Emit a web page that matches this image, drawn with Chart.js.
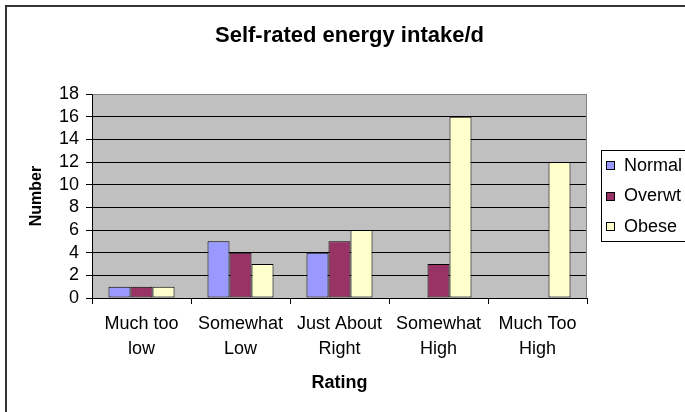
<!DOCTYPE html>
<html>
<head>
<meta charset="utf-8">
<script src="https://cdn.jsdelivr.net/npm/chart.js@4/dist/chart.umd.min.js"></script>
<style>
  html, body { margin: 0; padding: 0; background: #ffffff; }
  #wrap { width: 685px; height: 412px; position: relative; }
</style>
</head>
<body>
<div id="wrap"><canvas id="chart"></canvas></div>
<script>
// Self-rated energy intake per day, counts by weight group
const chartTitle = "Self-rated energy intake/d";
const categories = [["Much too", "low"], ["Somewhat", "Low"], ["Just About", "Right"], ["Somewhat", "High"], ["Much Too", "High"]];
const seriesNames = ["Normal", "Overwt", "Obese"];
const normalCounts = [1, 5, 4, 0, 0];
const overwtCounts = [1, 4, 5, 3, 0];
const obeseCounts = [1, 3, 6, 16, 12];
const yTickMin = 0;
const yTickMax = 18;
const yTickStep = 2;

const seriesColors = ["#9999FF", "#993366", "#FFFFCC"];
const FONT = "'Liberation Sans', Arial, Helvetica, sans-serif";

// Outer frame, plot background, title and boxed legend
const excelLook = {
  id: "excelLook",
  beforeDraw(chart) {
    const { ctx, chartArea: a } = chart;
    ctx.save();
    ctx.fillStyle = "#ffffff";
    ctx.fillRect(0, 0, chart.width, chart.height);
    // plot area fill
    ctx.fillStyle = "#C0C0C0";
    ctx.fillRect(a.left, a.top, a.right - a.left, a.bottom - a.top);
    ctx.restore();
  },
  beforeDatasetsDraw(chart) {
    const { ctx, chartArea: a } = chart;
    ctx.save();
    ctx.strokeStyle = "#808080";
    ctx.lineWidth = 1;
    ctx.beginPath();
    ctx.moveTo(Math.round(a.left) + 0.5, Math.round(a.top) + 0.5);
    ctx.lineTo(Math.round(a.right) - 0.5, Math.round(a.top) + 0.5);
    ctx.lineTo(Math.round(a.right) - 0.5, Math.round(a.bottom));
    ctx.stroke();
    ctx.restore();
  },
  afterDraw(chart) {
    const { ctx } = chart;
    ctx.save();
    // outer chart frame (top and left edges)
    ctx.strokeStyle = "#333333";
    ctx.lineWidth = 2;
    ctx.beginPath();
    ctx.moveTo(6, chart.height + 2);
    ctx.lineTo(6, 6);
    ctx.lineTo(chart.width + 2, 6);
    ctx.stroke();

    // title
    ctx.fillStyle = "#000000";
    ctx.font = "bold 22px " + FONT;
    ctx.textAlign = "center";
    ctx.textBaseline = "middle";
    ctx.fillText(chartTitle, 349.5, 36);

    // legend
    const lx = 601, ly = 150, lw = 100, lh = 91;
    ctx.fillStyle = "#ffffff";
    ctx.fillRect(lx, ly, lw, lh);
    ctx.strokeStyle = "#000000";
    ctx.lineWidth = 1;
    ctx.strokeRect(lx + 0.5, ly + 0.5, lw, lh);
    ctx.font = "18px " + FONT;
    ctx.textAlign = "left";
    chart.data.datasets.forEach((ds, i) => {
      const cy = ly + 15 + i * 30.5;
      ctx.fillStyle = ds.backgroundColor;
      ctx.fillRect(606, Math.round(cy - 4), 9, 9);
      ctx.strokeStyle = "#000000";
      ctx.strokeRect(606.5, Math.round(cy - 4) + 0.5, 8, 8);
      ctx.fillStyle = "#000000";
      ctx.fillText(ds.label, 624, cy + 1);
    });
    ctx.restore();
  }
};

const makeSet = (label, data, color) => ({
  label: label,
  data: data,
  backgroundColor: color,
  borderColor: "#000000",
  borderWidth: 1,
  borderSkipped: false,
  barPercentage: 1.0,
  categoryPercentage: 0.667
});

new Chart(document.getElementById("chart"), {
  type: "bar",
  data: {
    labels: categories,
    datasets: [
      makeSet(seriesNames[0], normalCounts, seriesColors[0]),
      makeSet(seriesNames[1], overwtCounts, seriesColors[1]),
      makeSet(seriesNames[2], obeseCounts, seriesColors[2])
    ]
  },
  options: {
    responsive: true,
    maintainAspectRatio: false,
    animation: false,
    devicePixelRatio: 1,
    layout: { padding: { left: 6, right: 98, top: 94, bottom: 0 } },
    plugins: {
      legend: { display: false },
      title: { display: false },
      tooltip: { enabled: false }
    },
    scales: {
      x: {
        offset: true,
        afterFit(scale) { scale.height = 114; },
        grid: {
          offset: true,
          drawOnChartArea: false,
          drawTicks: true,
          tickLength: 6,
          color: "#000000",
          lineWidth: 1
        },
        border: { display: true, color: "#000000", width: 1 },
        ticks: {
          color: "#000000",
          padding: 8,
          maxRotation: 0,
          autoSkip: false,
          font: { family: FONT, size: 18, lineHeight: 1.39 }
        },
        title: {
          display: true,
          text: "Rating",
          color: "#000000",
          font: { family: FONT, size: 18, weight: "bold", lineHeight: 1.2 },
          padding: { top: 0, bottom: 18 }
        }
      },
      y: {
        min: yTickMin,
        max: yTickMax,
        afterFit(scale) { scale.width = 86; },
        grid: {
          color: (c) => (c.tick && c.tick.value === yTickMax ? "#808080" : "#000000"),
          tickColor: "#000000",
          tickLength: 6,
          lineWidth: 1
        },
        border: { display: true, color: "#000000", width: 1 },
        ticks: {
          stepSize: yTickStep,
          autoSkip: false,
          color: "#000000",
          padding: 7,
          font: { family: FONT, size: 18, lineHeight: 1.0 }
        },
        title: {
          display: true,
          text: "Number",
          color: "#000000",
          font: { family: FONT, size: 16, weight: "bold", lineHeight: 1.2 },
          padding: { top: 21, bottom: 0 }
        }
      }
    }
  },
  plugins: [excelLook]
});
</script>
</body>
</html>
